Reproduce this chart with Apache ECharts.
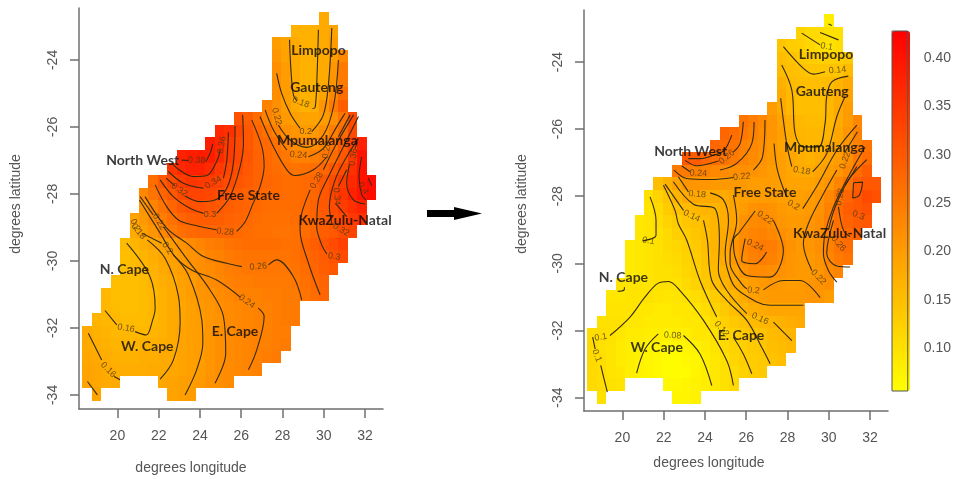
<!DOCTYPE html>
<html><head><meta charset="utf-8">
<style>html,body{margin:0;padding:0;background:#fff}#c{width:954px;height:479px}</style>
<script src="https://cdn.jsdelivr.net/npm/echarts@6/dist/echarts.min.js"></script>
</head><body><div id="c"></div>
<script>
// axis ticks
const lonTicks = [20,22,24,26,28,30,32];
const latTicks = [-24,-26,-28,-30,-32,-34];
const barTicks = [0.10,0.15,0.20,0.25,0.30,0.35,0.40];
// raster geometry (degrees)
const lonEdge = 18.29, lonStep = 0.4594, latEdge = -22.57, latStep = 0.3745;
// [first column, values in hundredths], one row per raster line, north to south
const leftRows = [
[25,[18]],
[22,[17,17,17,18,19]],
[20,[20,19,18,17,17,18,20]],
[20,[21,19,18,17,17,18,20,23]],
[20,[22,20,18,17,17,18,21,25]],
[20,[22,20,18,17,17,18,21,25]],
[20,[22,20,18,17,17,19,23,27]],
[19,[24,22,20,18,17,17.5,21,25,29]],
[16,[31,29,27,24,22,20.5,19.5,19,19,20,22,26,32]],
[14,[37,36,33,30,28,26,24,22,21,20,20.5,22,24.5,27,32]],
[13,[38.5,37,34.5,32,30,28,27.5,26.5,24,22.5,22,22.5,24,26,29,33,38]],
[10,[38,38.5,39,38.5,36.5,34.5,32.5,30.5,28.5,27.5,26.5,25.5,24,24,24.5,25.5,27,30,34.5,40]],
[9,[35,37,38,38,36.5,34.5,33,31.5,30,28.5,27.5,27,26.5,26,26.5,27,28,30,32,36,40]],
[7,[27,30,32,34,35,34.5,34,33,32,30.5,29.5,28.5,28,27.5,27,27,27.5,28,30,32,34,37,40,41]],
[6,[23,26,28,30,32,33,33,32.5,31.5,30.5,29.5,28.5,28,27.5,27.5,27,27,27.5,28,30,33,35,38,40,41]],
[6,[21,23.5,26,28,30,31,31,30.5,30,29,28.5,28,27.5,27,27,27,27,27.5,28.5,30,32,34,36,38]],
[5,[19,20.5,22.5,24.5,26.5,28,29,29.5,29.5,29,28.5,28,27.5,27,26.5,26.5,26.5,27,27.5,28.5,29.5,31,32.5,34.5,36]],
[5,[18,19.5,21,23,25,26.5,27.5,28,28,28,28,27.5,27,26.5,26.5,26,26,26.5,27,28,29,30,31.5,33]],
[4,[15.5,16.5,17.5,18.5,19.5,20.5,21.5,22.5,23.5,24.5,25,26,26.5,27,27,27,27,26.5,26.5,28,29,30.5,32,33.5]],
[4,[15,15.5,16.5,17.5,18.5,19.5,20.5,21.5,22,23.5,24,25,25.5,26,26,26,26,26,26.5,27.5,28.5,29.5,31,32]],
[4,[15,15.5,16,17,18,19,20,21,22,22.5,23.5,24.5,25,25.5,25.5,25.5,25.5,25.5,26,27,28,29,30]],
[3,[15,15,15,15.5,16.5,17.5,18,19.5,20,21.5,22.5,23,24,24.5,24.5,25,25,25,25,25.5,26.5,27.5,28.5]],
[2,[16,15,15,15,15.5,16,17,18,19,20,21,21.5,22.5,23,24,24,24,24.5,24.5,25,25,26,27,28]],
[2,[16,15.5,15,15,15.5,16,17,18,18.5,19.5,20.5,21,22,22.5,23,23.5,24,24,24.5,25,25]],
[1,[16.5,16,16,15.5,15.5,15.5,16,17,18,18.5,19.5,20,21,21.5,22.5,23,23.5,24,24,24.5,25,25]],
[0,[18,17,16.5,16,16,16,16,16.5,17,18,19,19.5,20,21,22,22.5,23,23.5,24,24,24.5,24.5]],
[0,[18,17.5,17,16.5,16.5,16.5,17,17,17.5,18,19,19.5,20,21,22,22.5,23,23.5,24,24,24.5,25]],
[0,[18.5,18,17.5,17,17,17,17.5,17.5,18,18,19,19.5,20,21,22,22.5,23,23.5,24,24.5,25]],
[0,[19,18.5,18,17.5,17.5,17.5,17.5,18,18,18.5,19,19.5,20,21,22,22.5,23,23.5,24]],
[0,[19,18.5,18,18,null,null,null,null,18.5,19,19.5,20,20.5,21.5,22,22.5]],
[1,[19,null,null,null,null,null,null,null,19,19.5,20]]
];
const rightRows = [
[25,[8]],
[22,[12,11,11,10,10]],
[20,[14,13,12.5,11.5,10.5,10,10.5]],
[20,[15,14.5,13.5,13,12.5,12.5,13,13.5]],
[20,[15.5,15,14.5,14,14,14,14,15.5]],
[20,[17,15.5,15,15,15,15.5,16.5,18]],
[20,[18,16,15,15,15,16,17.5,19]],
[19,[20,18,16,15,15,15,16,18,20]],
[16,[26,24.5,23,21,19,17.5,16,15.5,15.5,16,18,20,23]],
[14,[28,27,25.5,24,22.5,21,19.5,17.5,16.5,16,16,16.5,18.5,21,24]],
[13,[28,27,26,24,23,22,20.5,19,17.5,16.5,16,16.5,17.5,19,21,24,26]],
[10,[30,29.5,28,27,26,25,23.5,22.5,21.5,20.5,19.5,18.5,17.5,17,18,19,20,22,25,27]],
[9,[25,25,24,24,23,22.5,22,22,21.5,21,20,19.5,18.5,18,18,19,20,21,23,27,29]],
[7,[15,17,19,21,21,21,20.5,20.5,20.5,20.5,20,20,20,19.5,19,19,19,20,21,23.5,26,29,30,30]],
[6,[10,12,14,16.5,18,18.5,18,18,18,19,19.5,20,20,20,19.5,19.5,19.5,20,21,23,26,28,30,32,31]],
[6,[9.5,11,13,14.5,15.5,16,16.5,16.5,17.5,19,20,21.5,22,21.5,20.5,20,20,20.5,21.5,24,27,29,30,31]],
[5,[9,9.5,10.5,12,13,14,14.5,15.5,16.5,17.5,19,21.5,22.5,23,22,21,20.5,20.5,21,22,24.5,26.5,28.5,29.5,30]],
[5,[9,9.5,10,11,12.5,13,14,15,16.5,18,20,22.5,23.5,24,23,22,21,20.5,21,22,24,26,27.5,28]],
[4,[8.5,9,9.5,10,11,11.5,12.5,13.5,15,16.5,18.5,21,23,24.5,25,24.5,23,21.5,20.5,21,22,24,26,27]],
[4,[8.5,9,9.5,10,10.5,11,12,13,14.5,16,18,20.5,22.5,24,24.5,24,22.5,21,20.5,20.5,21.5,23.5,25,26]],
[4,[8.5,9,9.5,10,10,10.5,11.5,12.5,14,15.5,17,19,21,22.5,22.5,22,21.5,21,20.5,20.5,21,22.5,23.5]],
[3,[9.5,9.5,9.5,9.5,10,10,10,11,12,13.5,15,16.5,18,19,20,20.5,21,20.5,20,20.5,21,21.5,22]],
[2,[9,9,9.5,9.5,10,9.5,9,9.5,10,10.5,11.5,13,14.5,16.5,18,19.5,20,20.5,20.5,20.5,20.5,21,21,20]],
[2,[9.5,9.5,9.5,9,9,8.5,8.5,9,9,9.5,10.5,12,13.5,15,16.5,17.5,18,18.5,18.5,18.5,18.5]],
[1,[10,10,10,9,9,8.5,8.5,8.5,8.5,9,9,9.5,11,12.5,13.5,14.5,15.5,16,16.5,17,17.5,18]],
[0,[10.5,10.5,10,9,8.5,8.5,8,8,7.5,8,8,9,9,10,11.5,12.5,13.5,14,14.5,15.5,16,16.5]],
[0,[11,10,9.5,8.5,8,8,7,7,6.5,6.5,7,7.5,8.5,9.5,11,12,12.5,13.5,14,15,15.5,16]],
[0,[11,10.5,9.5,8.5,8,7.5,7,6.5,6,6,6.5,7,8,9,10,11.5,12.5,13,13.5,14.5,15]],
[0,[11,10.5,9.5,9,8,7.5,7,6.5,6,6,6,7,8,9,10,11,12,13,13.5]],
[0,[11,10.5,10,9.5,null,null,null,null,6.5,6.5,7,7.5,8,9,10,11]],
[1,[10,null,null,null,null,null,null,null,7,7,7.5]]
];
// contour polylines [lon,lat]; null = gap where an inline label sits
const leftContours = [
[[23.12,-26.99],[23.44,-27.0]],
[[24.28,-27.03],[24.49,-26.79],[24.62,-26.51]],
[[22.63,-27.08],[23.04,-27.30],[23.68,-27.48],[24.33,-27.45],[24.81,-27.03],[24.98,-26.69],null,[25.14,-26.19]],
[[22.47,-27.33],[23.20,-27.68],[24.17,-27.83],null,[25.14,-27.53],[25.30,-27.0],[25.38,-26.16]],
[[22.36,-27.53],[22.79,-27.76],null,[23.28,-28.06],[24.01,-28.23],[24.73,-28.18],[25.30,-27.83],[25.62,-27.08],[25.70,-25.97]],
[[22.07,-27.58],[22.71,-28.08],[23.52,-28.43],[24.17,-28.58],null,[24.81,-28.58],[25.46,-28.08],[25.95,-27.18],[26.11,-26.49],[26.07,-25.64]],
[[21.83,-27.73],[22.39,-28.38],[22.96,-28.78],[23.68,-28.93],[24.81,-29.07],null,[25.78,-29.12],[26.19,-28.83],[26.51,-28.38],[26.91,-27.78],[27.11,-27.18],[27.0,-26.59],[26.51,-25.79]],
[[31.44,-25.64],[30.63,-26.49],[29.98,-27.28],null,[29.34,-27.88],[28.93,-28.58],[28.85,-29.07],[29.26,-30.07],[29.82,-31.01]],
[[21.34,-28.08],[22.39,-29.02],[23.36,-29.47],[24.17,-29.87],[25.30,-30.07],[26.03,-30.17],null,[27.32,-30.12],[27.72,-29.97],[28.53,-30.47],[28.93,-31.16]],
[[26.91,-25.69],[27.56,-26.59],[28.21,-27.28],[28.61,-27.45],[29.50,-27.28],[30.15,-26.89],null,[30.71,-26.29],[31.28,-25.64]],
[[21.07,-28.18],[22.07,-29.17],[22.79,-29.87],[23.60,-30.27],[24.81,-30.57],[25.95,-31.08],null,[26.83,-31.41],[27.11,-31.66],[26.75,-32.66],[26.35,-33.25]],
[[21.10,-28.08],[21.74,-28.63],null,[22.23,-28.98],[23.28,-29.87],[24.49,-30.87],[25.14,-31.66],[25.25,-32.76],[24.73,-33.65]],
[[20.69,-28.48],null,[21.18,-29.17],[22.15,-29.47],null,[22.71,-29.82],[23.44,-30.42],[24.09,-31.76],[24.14,-32.46],[23.84,-33.25],[23.28,-34.0]],
[[20.65,-28.83],null,[21.45,-29.37],[22.31,-29.92],[22.96,-31.06],[23.04,-31.86],[22.71,-32.96],[22.07,-33.53]],
[[18.59,-32.16],[19.24,-32.96],null,[19.84,-33.45],[20.13,-33.55]],
[[18.55,-33.60],[19.03,-34.0]],
[[19.40,-31.48],[19.97,-31.91],null,[20.86,-32.11],[21.39,-32.21],[21.71,-31.76],[21.83,-31.41],[21.58,-30.47],[20.45,-29.47]],
[[28.34,-23.40],[28.40,-24.20],[28.53,-25.05],[28.70,-25.22],null,[29.45,-25.45],[29.58,-25.42],[29.66,-24.70],[29.74,-23.10]],
[[27.72,-24.40],[27.96,-25.0],[28.37,-25.59],[28.85,-26.04],null,[29.42,-26.14],[29.98,-25.64],[30.23,-24.70],[30.39,-23.05]],
[[27.56,-25.39],null,[27.80,-25.94],[28.37,-26.39],[29.18,-26.61],[29.98,-26.24],[30.47,-25.39],[30.71,-24.0]],
[[27.16,-25.49],[27.56,-26.09],[28.21,-26.69],null,[29.26,-26.89],[29.98,-26.64],[30.63,-25.99],[31.03,-25.59]],
[[31.68,-25.69],[30.95,-26.59],[30.23,-27.48],[29.74,-28.18],[29.66,-28.98],[29.90,-29.52],[30.15,-29.79]],
[[31.68,-26.34],[31.11,-26.89],[30.55,-27.58],[30.27,-28.38],[30.39,-28.88],null,[31.36,-29.19]],
[[31.11,-27.28],[30.71,-27.78],null,[30.57,-28.28],[31.11,-28.68]],
[[31.63,-26.44],[31.52,-26.64],null,[31.24,-27.13],[31.11,-27.68],[31.44,-28.18],[32.0,-28.30]],
[[31.84,-26.89],[31.71,-27.48],[31.84,-28.03],[32.05,-28.18]],
[[32.16,-27.53],[32.33,-27.76]]
];
const rightContours = [
[[29.98,-22.87],[30.15,-22.91]],
[[28.69,-23.14],[29.58,-23.49]],
[[29.58,-23.12],[30.47,-23.34]],
[[27.80,-23.54],[28.77,-24.19],[29.26,-24.36],[29.82,-24.29]],
[[27.72,-24.09],[28.21,-24.84],[28.37,-26.13],[28.77,-26.53],[29.50,-26.53],[29.82,-25.83],[29.90,-25.03],[30.15,-24.59],[30.95,-24.42]],
[[27.67,-25.08],[27.96,-26.43],[28.21,-27.12],null,[29.22,-27.27],[29.90,-26.73],[30.39,-25.63],[30.79,-25.03]],
[[27.35,-26.43],[27.51,-27.22],[27.96,-28.02],null,[28.74,-28.37],[29.50,-27.62],[30.39,-26.63],[31.36,-25.88]],
[[26.91,-25.73],[26.79,-26.83],[26.35,-27.22],null,[25.38,-27.44],[24.25,-27.50],[23.12,-27.47],[22.50,-27.22]],
[[26.38,-25.79],[26.27,-26.43],[25.54,-27.02],[24.73,-27.22],null,[23.28,-27.27],[22.88,-27.10]],
[[25.86,-25.78],[25.70,-26.43],[25.38,-26.68],null,[24.65,-26.95],[23.60,-27.09],[23.04,-26.93]],
[[25.30,-26.18],[24.93,-26.63],[24.41,-26.78],[23.77,-26.88],[23.20,-26.88]],
[[21.34,-28.02],[21.63,-28.72],[21.63,-29.16],[20.99,-29.33]],
[[21.99,-27.67],[22.55,-28.42],[22.71,-28.82],[23.12,-29.31],[23.76,-30.51],[24.57,-31.60],null,[25.38,-32.20],[25.86,-32.70],[26.27,-33.29]],
[[22.07,-27.64],[22.96,-28.42],null,[23.93,-28.72],[24.12,-29.31],[24.33,-30.51],[25.06,-31.10],[26.03,-31.70],[26.75,-32.50],[27.16,-32.99]],
[[22.47,-27.57],[23.44,-28.24],[24.49,-28.37],[24.70,-29.31],[24.65,-30.21],[25.06,-30.81],[26.03,-31.50],null,[27.32,-31.75],[28.21,-32.30]],
[[22.71,-27.42],[23.20,-27.87],null,[24.25,-27.90],[24.89,-28.10],[25.14,-28.72],[24.98,-29.71],[25.06,-30.11],[25.46,-30.71],[26.51,-31.15],[27.16,-31.25],[28.77,-31.25]],
[[25.38,-27.97],[25.54,-28.72],[25.22,-29.71],[25.22,-30.01],[25.78,-30.61],[26.03,-30.76],null,[26.83,-30.79],[27.80,-30.51],[28.61,-30.51],[29.58,-31.02]],
[[25.62,-29.11],[26.43,-28.44],null,[27.32,-28.72],[27.80,-29.61],[27.16,-30.41],[26.03,-30.36],[25.46,-29.81],[25.38,-29.31],[25.62,-29.11]],
[[25.95,-29.26],[25.78,-29.91],[26.43,-30.01],[26.99,-29.66]],
[[31.39,-26.08],[30.79,-26.68],null,[30.39,-27.22],[29.66,-28.02],[29.01,-28.82],[28.77,-29.41],[29.18,-30.21],null,[29.94,-30.71]],
[[31.76,-26.53],[31.03,-27.32],[30.23,-28.32],[29.82,-29.11],[29.74,-29.71],[29.98,-30.21],[30.39,-30.56]],
[[31.84,-26.91],[30.95,-27.52],[30.31,-28.32],[29.98,-29.01]],
[[31.36,-27.12],[30.79,-27.67],null,[30.47,-28.32],[30.71,-29.01],[31.03,-29.2]],
[[30.23,-28.72],[29.90,-29.71],[30.39,-30.08],[31.03,-30.11]],
[[31.20,-27.60],[31.64,-27.58],[31.48,-27.97],[31.16,-28.05],[31.20,-27.60]],
[[19.40,-32.15],[20.37,-31.60],[21.10,-31.0],[21.74,-30.59],[22.23,-30.54],[22.79,-30.81],[23.93,-31.70],[25.06,-32.90],[25.38,-33.64]],
[[18.56,-32.20],[18.68,-32.55],null,[18.95,-33.04],[19.27,-33.84]],
[[20.69,-33.27],[21.10,-32.55],[21.74,-32.10],null,[22.96,-32.15],[23.76,-32.70],[24.33,-33.64]],
[[20.10,-30.71],[20.07,-30.80],[19.77,-30.83]]
];
// inline contour labels: text, lon, lat, rotation
const leftLevelLabels = [
["0.38",23.84,-27.0,-3],["0.36",25.06,-26.54,80],["0.34",24.65,-27.66,30],["0.32",23.0,-27.88,-35],
["0.3",24.49,-28.6,0],["0.28",25.22,-29.13,-5],["0.22",27.72,-25.69,-75],["0.2",29.13,-26.14,0],
["0.18",28.89,-25.27,-20],["0.24",28.77,-26.84,-5],["0.26",30.15,-26.69,80],["0.28",29.66,-27.6,60],
["0.36",31.44,-26.9,80],["0.34",30.63,-28.08,-85],["0.4",31.92,-27.83,-60],["0.32",30.84,-29.07,-30],
["0.3",30.5,-29.87,-10],["0.26",26.83,-30.17,5],["0.24",26.27,-31.21,-35],["0.2",22.42,-29.62,-55],
["0.18",21.02,-29.12,-50],["0.22",22.02,-28.83,-60],["0.16",20.42,-32.01,-10],["0.16",19.56,-33.25,-45],["0.2",20.86,-28.93,-65]
];
const rightLevelLabels = [
["0.1",29.90,-23.54,-10],["0.14",30.42,-24.24,5],["0.18",28.69,-27.24,-10],["0.22",25.78,-27.42,5],
["0.24",23.68,-27.32,-3],["0.26",25.06,-26.83,40],["0.18",23.63,-27.94,-5],["0.14",23.36,-28.59,-25],
["0.2",28.29,-28.27,-30],["0.22",26.91,-28.64,-35],["0.22",30.79,-26.93,70],["0.28",30.55,-28.02,80],
["0.3",31.44,-28.57,-20],["0.1",21.26,-29.33,-10],["0.24",26.43,-29.46,-25],["0.26",30.47,-29.41,-50],
["0.22",29.50,-30.41,-45],["0.2",26.35,-30.81,-5],["0.16",26.67,-31.65,-25],["0.12",24.81,-31.95,-50],
["0.1",18.95,-32.20,10],["0.08",22.44,-32.15,-3],["0.1",18.76,-32.75,-70]
];
// province names: text, lon, lat
const leftPlaces = [["Limpopo",29.74,-23.72],["Gauteng",29.66,-24.82],["Mpumalanga",29.69,-26.41],["North West",21.23,-27.0],["Free State",26.35,-28.06],["KwaZulu-Natal",31.03,-28.8],["N. Cape",20.34,-30.27],["W. Cape",21.45,-32.54],["E. Cape",25.70,-32.11]];
const rightPlaces = [["Limpopo",29.87,-23.77],["Gauteng",29.68,-24.89],["Mpumalanga",29.79,-26.56],["North West",23.31,-26.66],["Free State",26.91,-27.90],["KwaZulu-Natal",30.52,-29.11],["N. Cape",20.05,-30.41],["W. Cape",21.66,-32.50],["E. Cape",25.75,-32.15]];

const AXIS = '#6f6f6f', TXT = '#555', FONT = '"Liberation Sans",Arial,sans-serif';
function cells(rows){
  const out = [];
  rows.forEach((row,r)=>row[1].forEach((v,k)=>{
    if(v===null) return;
    out.push([lonEdge+(row[0]+k+.5)*lonStep, latEdge-(r+.5)*latStep, v/100]);
  }));
  return out;
}
function rasterSeries(rows,g){
  return {type:'custom',xAxisIndex:g,yAxisIndex:g,coordinateSystem:'cartesian2d',z:1,silent:true,
    encode:{x:0,y:1},data:cells(rows),
    renderItem(p,api){
      const c = api.coord([api.value(0),api.value(1)]);
      const s = api.size([lonStep,latStep]);
      const x0=Math.round(c[0]-s[0]/2),x1=Math.round(c[0]+s[0]/2),y0=Math.round(c[1]-s[1]/2),y1=Math.round(c[1]+s[1]/2);
      return {type:'rect',shape:{x:x0,y:y0,width:x1-x0,height:y1-y0},style:{fill:api.visual('color')}};
    }};
}
function contourSeries(lines,g){
  const out = [];
  lines.forEach(line=>{
    let piece=[];
    const flush=()=>{ if(piece.length>1) out.push({type:'line',xAxisIndex:g,yAxisIndex:g,z:2,silent:true,symbol:'none',smooth:0.35,animation:false,
      lineStyle:{color:'#332a12',width:1.1},data:piece}); piece=[]; };
    line.forEach(p=>{ if(p===null) flush(); else piece.push(p); });
    flush();
  });
  return out;
}
function textSeries(items,g,style,z){
  return {type:'scatter',xAxisIndex:g,yAxisIndex:g,z,silent:true,symbolSize:0,animation:false,
    data:items.map(t=>({value:[t[1],t[2]],name:t[0],label:{rotate:t[3]||0}})),
    label:Object.assign({show:true,position:'inside',formatter:p=>p.name},style)};
}
const levelStyle={fontFamily:FONT,fontSize:9,color:'#4a3a10'};
const placeStyle={fontFamily:'Lato,"Open Sans",sans-serif',fontWeight:'bold',fontSize:14,color:'#0a0a0a'};
function axes(g,minX,maxX,minY,maxY){
  return [{gridIndex:g,type:'value',min:minX,max:maxX,splitLine:{show:false},
      axisLine:{onZero:false,lineStyle:{color:AXIS,width:1.5}},
      axisTick:{customValues:lonTicks,length:9,lineStyle:{color:AXIS,width:1.5}},
      axisLabel:{customValues:lonTicks,margin:20,fontSize:14,color:TXT,fontFamily:FONT}},
    {gridIndex:g,type:'value',min:minY,max:maxY,splitLine:{show:false},
      axisLine:{onZero:false,lineStyle:{color:AXIS,width:1.5}},
      axisTick:{customValues:latTicks,length:9,lineStyle:{color:AXIS,width:1.5}},
      axisLabel:{customValues:latTicks,margin:19,rotate:90,fontSize:14,color:TXT,fontFamily:FONT}}];
}
const a0=axes(0,18.14,32.87,-34.42,-22.45), a1=axes(1,18.14,32.87,-34.40,-22.45);
const chart=echarts.init(document.getElementById('c'),null,{renderer:'canvas'});
function axisName(text,x,y,rot){
  return {type:'text',x,y,rotation:rot?Math.PI/2:0,z:5,style:{text,fill:TXT,font:'14px '+FONT,textAlign:'center',textVerticalAlign:'middle'}};
}
chart.setOption({
  animation:false,backgroundColor:'#fff',
  grid:[
    {left:79,right:571,top:8,bottom:70},
    {left:584,right:66,top:10,bottom:68},
    {left:892,right:44,top:31,bottom:88,show:true,borderColor:'#555',borderWidth:1,backgroundColor:'transparent',z:6}
  ],
  xAxis:[a0[0],a1[0],{gridIndex:2,type:'value',min:0,max:1,show:false}],
  yAxis:[a0[1],a1[1],{gridIndex:2,type:'value',position:'right',min:0.0555,max:0.428,splitLine:{show:false},
    axisLine:{show:false},axisTick:{customValues:barTicks,length:9,lineStyle:{color:AXIS,width:1.5}},
    axisLabel:{customValues:barTicks,margin:16,fontSize:14,color:TXT,fontFamily:FONT,formatter:v=>v.toFixed(2)}}],
  visualMap:{type:'continuous',seriesIndex:[0,1],dimension:2,min:0.0555,max:0.428,calculable:false,realtime:false,
    left:892,top:31,itemWidth:18,itemHeight:360,padding:0,text:['',''],textGap:0,inRange:{color:['#ffff00','#ff0000']},hoverLink:false},
  series:[
    rasterSeries(leftRows,0),rasterSeries(rightRows,1),
    ...contourSeries(leftContours,0),...contourSeries(rightContours,1),
    textSeries(leftLevelLabels,0,levelStyle,3),textSeries(rightLevelLabels,1,levelStyle,3),
    textSeries(leftPlaces,0,placeStyle,4),textSeries(rightPlaces,1,placeStyle,4),
    {type:'line',xAxisIndex:2,yAxisIndex:2,data:[],silent:true}
  ],
  graphic:[
    axisName('degrees longitude',191,468),axisName('degrees longitude',709,463),
    axisName('degrees latitude',16,204,true),axisName('degrees latitude',522,204,true),
    {type:'polygon',z:5,shape:{points:[[427,210],[454,210],[454,207],[482,213.5],[454,220],[454,217],[427,217]]},style:{fill:'#000'}}
  ]
});
</script></body></html>
